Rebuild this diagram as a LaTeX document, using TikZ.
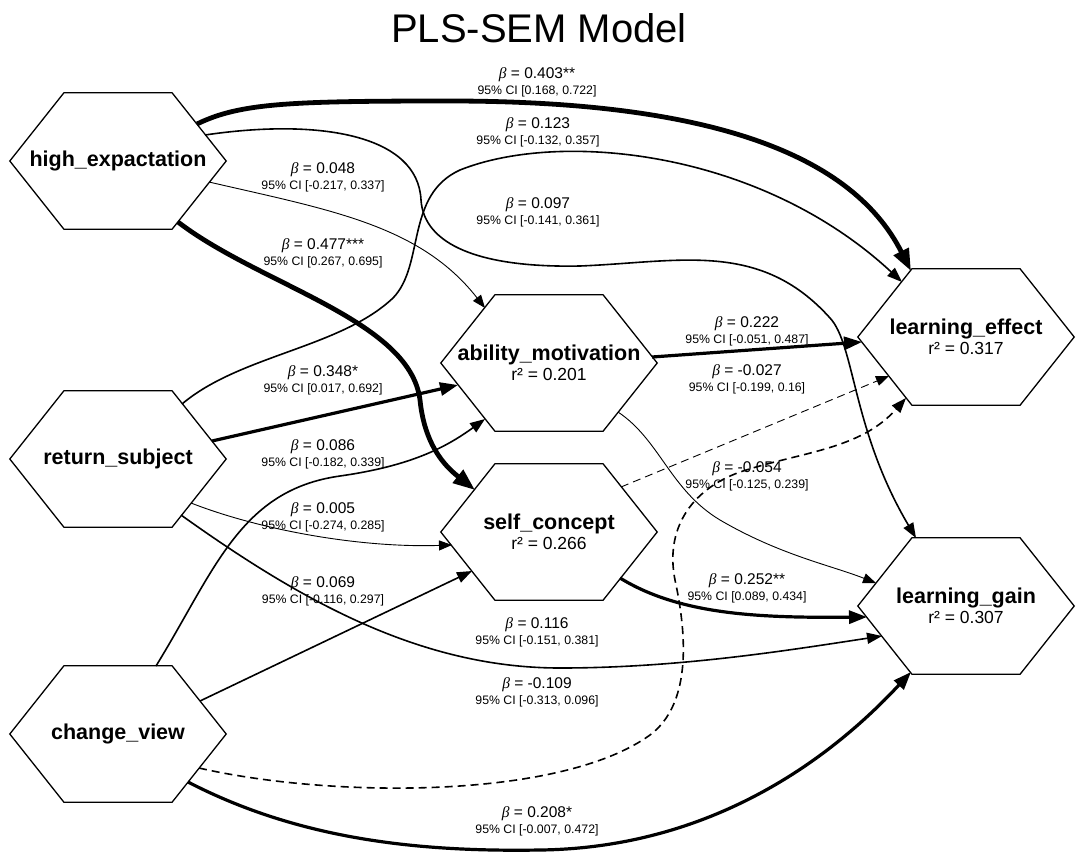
\documentclass[tikz,border=0pt]{standalone}
\usepackage{fontspec}
\setmainfont{Liberation Sans}
\newfontfamily\betafont{Liberation Serif}
\usetikzlibrary{arrows.meta,calc}
\newcommand{\bb}{{\betafont\itshape β}}
\newcommand{\ci}[1]{{\fontsize{12.3}{16}\selectfont 95\% CI [#1]}}
\newcommand{\rsq}[1]{{\mdseries\fontsize{17.5}{20}\selectfont r² = #1}}

\begin{document}
\begin{tikzpicture}[x=1pt,y=-1pt,
    construct/.style={minimum width=216pt,minimum height=136pt,inner sep=0pt,align=center,font=\fontsize{21.5}{20}\selectfont\bfseries},
    hexline/.style={draw=black,line width=1.3pt},
    coef/.style={align=center,inner sep=0pt,font=\fontsize{15.5}{16}\selectfont},
    pathS/.style={line width=0.9pt,-{Triangle[length=13pt,width=10pt]}},
    pathM/.style={line width=1.6pt,-{Triangle[length=15pt,width=11pt]}},
    pathL/.style={line width=3.2pt,-{Triangle[length=18pt,width=13pt]}},
    pathXL/.style={line width=4.8pt,-{Triangle[length=22pt,width=16pt]}},
    neg/.style={dash pattern=on 8pt off 5pt}
  ]
  \useasboundingbox (0,0) rectangle (1078,854);

  \node[anchor=base] (title) at (539,42) {\fontsize{40}{44}\selectfont PLS-SEM Model};

  \node[construct] (high) at (118,161) {high\_expactation};
  \node[construct] (ret) at (118,459) {return\_subject};
  \node[construct] (change) at (118,734) {change\_view};
  \node[construct] (ability) at (549,363) {ability\_motivation\\\rsq{0.201}};
  \node[construct] (self) at (549,532) {self\_concept\\\rsq{0.266}};
  \node[construct] (effect) at (966,337) {learning\_effect\\\rsq{0.317}};
  \node[construct] (gain) at (966,606) {learning\_gain\\\rsq{0.307}};

  \foreach \n in {high,ret,change,ability,self,effect,gain}
    \draw[hexline] (\n.west) -- ($(\n.north west)!.25!(\n.north east)$) -- ($(\n.north west)!.75!(\n.north east)$) -- (\n.east)
      -- ($(\n.south west)!.75!(\n.south east)$) -- ($(\n.south west)!.25!(\n.south east)$) -- cycle;

  \draw[pathXL] ($(high)+(79,-37)$) .. controls (240,103) and (290,101) .. (450,101) .. controls (700,101) and (850,150) .. ($(effect)+(-55,-66)$);
  \draw[pathM] ($(high)+(87,-26)$) .. controls (320,118) and (418,135) .. (421,200) .. controls (424,245) and (480,268) .. (580,266)
    .. controls (680,262) and (760,240) .. (830,318) .. controls (855,345) and (852,430) .. ($(gain)+(-50,-68)$);
  \draw[pathS] ($(high)+(91,21)$) .. controls (330,210) and (420,225) .. ($(ability)+(-64,-55)$);
  \draw[pathXL] ($(high)+(60,61)$) .. controls (260,285) and (410,320) .. (420,400) .. controls (425,450) and (450,470) .. ($(self)+(-74,-42)$);

  \draw[pathM] ($(ret)+(64,-55)$) .. controls (240,355) and (340,348) .. (393,298) .. controls (425,265) and (405,195) .. (460,170)
    .. controls (560,130) and (760,150) .. ($(effect)+(-64,-55)$);
  \draw[pathL] ($(ret)+(94,-18)$) -- ($(ability)+(-91,22)$);
  \draw[pathS] ($(ret)+(73,44)$) .. controls (260,530) and (360,548) .. ($(self)+(-97,13)$);
  \draw[pathM] ($(ret)+(63,56)$) .. controls (300,600) and (420,668) .. (560,668) .. controls (680,668) and (790,650) .. ($(gain)+(-84,30)$);

  \draw[pathM] ($(change)+(38,-68)$) .. controls (215,570) and (240,490) .. (340,476) .. controls (410,466) and (445,448) .. ($(ability)+(-64,56)$);
  \draw[pathM] ($(change)+(82,-33)$) -- ($(self)+(-77,39)$);
  \draw[pathM,neg] ($(change)+(81,34)$) .. controls (330,798) and (560,800) .. (650,735) .. controls (690,705) and (688,640) .. (675,580)
    .. controls (665,530) and (690,490) .. (740,472) .. controls (800,452) and (860,450) .. ($(effect)+(-60,61)$);
  \draw[pathL] ($(change)+(70,48)$) .. controls (300,840) and (420,852) .. (540,850) .. controls (700,848) and (820,770) .. ($(gain)+(-55,66)$);

  \draw[pathL] ($(ability)+(103,-6)$) -- ($(effect)+(-104,5)$);
  \draw[pathS,neg] ($(self)+(72,-45)$) -- ($(effect)+(-77,39)$);
  \draw[pathS] ($(ability)+(69,49)$) .. controls (660,440) and (670,490) .. (720,520) .. controls (780,555) and (830,565) .. ($(gain)+(-90,-23)$);
  \draw[pathL] ($(self)+(71,46)$) .. controls (680,615) and (760,618) .. ($(gain)+(-99,11)$);

  \node[coef] (c403) at (537,82) {\bb{} = 0.403**\\\ci{0.168, 0.722}};
  \node[coef] (c123) at (538,132) {\bb{} = 0.123\\\ci{-0.132, 0.357}};
  \node[coef] (c097) at (538,212) {\bb{} = 0.097\\\ci{-0.141, 0.361}};
  \node[coef] (c048) at (323,177) {\bb{} = 0.048\\\ci{-0.217, 0.337}};
  \node[coef] (c477) at (323,253) {\bb{} = 0.477***\\\ci{0.267, 0.695}};
  \node[coef] (c348) at (323,380) {\bb{} = 0.348*\\\ci{0.017, 0.692}};
  \node[coef] (c086) at (323,454) {\bb{} = 0.086\\\ci{-0.182, 0.339}};
  \node[coef] (c005) at (323,517) {\bb{} = 0.005\\\ci{-0.274, 0.285}};
  \node[coef] (c069) at (323,591) {\bb{} = 0.069\\\ci{-0.116, 0.297}};
  \node[coef] (c116) at (537,632) {\bb{} = 0.116\\\ci{-0.151, 0.381}};
  \node[coef] (c109) at (537,692) {\bb{} = -0.109\\\ci{-0.313, 0.096}};
  \node[coef] (c208) at (537,821) {\bb{} = 0.208*\\\ci{-0.007, 0.472}};
  \node[coef] (c222) at (747,331) {\bb{} = 0.222\\\ci{-0.051, 0.487}};
  \node[coef] (c027) at (747,379) {\bb{} = -0.027\\\ci{-0.199, 0.16}};
  \node[coef] (c054) at (747,476) {\bb{} = -0.054\\\ci{-0.125, 0.239}};
  \node[coef] (c252) at (747,588) {\bb{} = 0.252**\\\ci{0.089, 0.434}};
\end{tikzpicture}
\end{document}
